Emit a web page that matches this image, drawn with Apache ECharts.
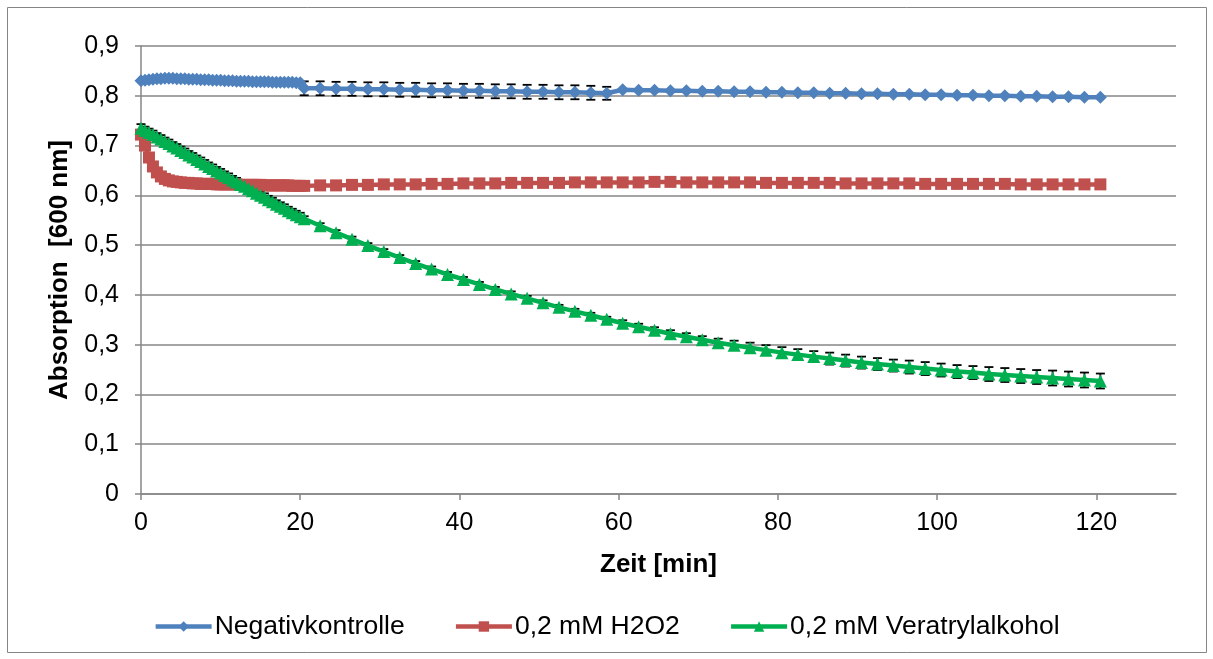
<!DOCTYPE html>
<html>
<head>
<meta charset="utf-8">
<script src="https://cdn.jsdelivr.net/npm/echarts@6/dist/echarts.min.js"></script>
<style>html,body{margin:0;padding:0;background:#fff;}#c{width:1213px;height:659px;}</style>
</head>
<body>
<div id="c"></div>
<script>
// Time points (min)
const zeit = [0,0.5,1,1.5,2,2.5,3,3.5,4,4.5,5,5.5,6,6.5,7,7.5,8,8.5,9,9.5,10,10.5,11,11.5,12,12.5,13,13.5,14,14.5,15,15.5,16,16.5,17,17.5,18,18.5,19,19.5,20,
  20.5,22.5,24.5,26.5,28.5,30.5,32.5,34.5,36.5,38.5,40.5,42.5,44.5,46.5,48.5,50.5,52.5,54.5,56.5,58.5,
  60.5,62.5,64.5,66.5,68.5,70.5,72.5,74.5,76.5,78.5,80.5,82.5,84.5,86.5,88.5,90.5,92.5,94.5,96.5,98.5,
  100.5,102.5,104.5,106.5,108.5,110.5,112.5,114.5,116.5,118.5,120.5];

const seriesNames = ['Negativkontrolle', '0,2 mM H2O2', '0,2 mM Veratrylalkohol'];

const negativ = [0.830,0.831,0.832,0.833,0.834,0.834,0.835,0.835,0.835,0.834,0.834,0.834,0.833,0.833,0.833,0.832,0.832,0.832,0.831,0.831,0.831,0.830,0.830,0.830,0.829,0.829,0.829,0.829,0.828,0.828,0.828,0.828,0.828,0.827,0.827,0.827,0.827,0.827,0.827,0.826,0.826,
  0.815,0.815,0.814,0.814,0.813,0.813,0.812,0.812,0.811,0.811,0.810,0.810,0.809,0.809,0.808,0.808,0.807,0.807,0.806,0.805,
  0.812,0.811,0.811,0.810,0.810,0.809,0.809,0.808,0.808,0.807,0.807,0.806,0.806,0.805,0.805,0.804,0.804,0.803,0.803,0.802,
  0.802,0.801,0.801,0.800,0.800,0.799,0.799,0.798,0.798,0.797,0.797];
const negativErr = [0,0,0,0,0,0,0,0,0,0,0,0,0,0,0,0,0,0,0,0,0,0,0,0,0,0,0,0,0,0,0,0,0,0,0,0,0,0,0,0,0,
  0.014,0.014,0.014,0.014,0.014,0.014,0.014,0.014,0.014,0.014,0.014,0.014,0.014,0.014,0.014,0.014,0.014,0.014,0.014,0.013,
  0,0,0,0,0,0,0,0,0,0,0,0,0,0,0,0,0,0,0,0,
  0,0,0,0,0,0,0,0,0,0,0];

const h2o2 = [0.722,0.700,0.676,0.658,0.646,0.638,0.633,0.630,0.628,0.627,
  0.626,0.625,0.625,0.624,0.624,0.623,0.623,0.623,0.623,0.622,
  0.622,0.622,0.622,0.622,0.622,0.621,0.621,0.621,0.621,0.621,
  0.621,0.620,0.620,0.620,0.620,0.620,0.620,0.620,0.619,0.619,0.619,
  0.619,0.620,0.620,0.621,0.621,0.622,0.622,0.622,0.623,0.623,
  0.624,0.624,0.624,0.625,0.625,0.625,0.625,0.626,0.626,0.626,
  0.626,0.626,0.627,0.627,0.626,0.626,0.626,0.626,0.626,0.625,
  0.625,0.625,0.625,0.625,0.624,0.624,0.624,0.624,0.624,0.623,
  0.623,0.623,0.623,0.623,0.623,0.622,0.622,0.622,0.622,0.622,0.622];

const veratryl = [0.735,0.730,0.726,0.722,0.717,0.713,0.708,0.704,0.699,0.695,
  0.690,0.686,0.681,0.677,0.672,0.668,0.663,0.658,0.654,0.649,
  0.645,0.640,0.636,0.631,0.627,0.622,0.618,0.613,0.609,0.604,
  0.600,0.596,0.591,0.587,0.582,0.578,0.574,0.569,0.565,0.561,0.557,
  0.553,0.539,0.525,0.512,0.499,0.487,0.475,0.463,0.452,0.441,
  0.431,0.421,0.411,0.402,0.393,0.384,0.375,0.367,0.359,0.351,
  0.343,0.336,0.329,0.322,0.316,0.310,0.304,0.299,0.294,0.289,
  0.284,0.280,0.276,0.272,0.268,0.264,0.261,0.258,0.255,0.252,
  0.249,0.246,0.244,0.241,0.239,0.237,0.235,0.233,0.231,0.229,0.227];
const veratrylErr = [0.008,0.008,0.008,0.008,0.008,0.008,0.008,0.008,0.008,0.008,
  0.008,0.008,0.008,0.008,0.008,0.008,0.008,0.008,0.008,0.008,
  0.008,0.008,0.008,0.008,0.008,0.008,0.008,0.008,0.008,0.008,
  0.008,0.008,0.008,0.008,0.008,0.008,0.008,0.008,0.008,0.008,0.008,
  0.005,0.005,0.005,0.005,0.005,0.005,0.005,0.005,0.005,0.005,
  0.005,0.005,0.005,0.005,0.005,0.005,0.005,0.005,0.005,0.005,
  0.006,0.006,0.006,0.007,0.007,0.007,0.008,0.009,0.010,0.010,
  0.011,0.011,0.011,0.012,0.012,0.012,0.012,0.012,0.013,0.013,
  0.013,0.013,0.013,0.014,0.014,0.014,0.014,0.015,0.015,0.015,0.015];

const colors = ['#4F81BD', '#C0504D', '#00B050'];
const FONT = '"Liberation Sans", Arial, sans-serif';

function pairs(ys) { return zeit.map((t, i) => [t, ys[i]]); }
function errData(ys, es) { return zeit.map((t, i) => [t, ys[i], es[i]]); }

function errorSeries(ys, es) {
  return {
    type: 'custom',
    silent: true,
    z: 1,
    data: errData(ys, es),
    encode: { x: 0, y: 1 },
    renderItem: function (params, api) {
      const x = api.value(0), y = api.value(1), e = api.value(2);
      if (!e) return null;
      const top = api.coord([x, y + e]);
      const bot = api.coord([x, y - e]);
      const hw = 4.5;
      const st = { stroke: '#000', lineWidth: 1.8 };
      return {
        type: 'group',
        children: [
          { type: 'line', shape: { x1: top[0], y1: top[1], x2: bot[0], y2: bot[1] }, style: st },
          { type: 'line', shape: { x1: top[0] - hw, y1: top[1], x2: top[0] + hw, y2: top[1] }, style: st },
          { type: 'line', shape: { x1: bot[0] - hw, y1: bot[1], x2: bot[0] + hw, y2: bot[1] }, style: st }
        ]
      };
    }
  };
}

const chart = echarts.init(document.getElementById('c'), null, { renderer: 'canvas' });
chart.setOption({
  animation: false,
  backgroundColor: '#fff',
  color: colors,
  textStyle: { fontFamily: FONT },
  graphic: [{
    type: 'rect', silent: true,
    shape: { x: 7.5, y: 7.5, width: 1199, height: 645 },
    style: { fill: null, stroke: '#868686', lineWidth: 1 }
  }],
  grid: { left: 141, top: 46, width: 1035, height: 448, containLabel: false },
  xAxis: {
    type: 'value', min: 0, max: 130, interval: 20,
    name: 'Zeit [min]', nameLocation: 'middle', nameGap: 58,
    nameTextStyle: { fontFamily: FONT, fontSize: 26, fontWeight: 'bold', color: '#000' },
    axisLine: { show: true, onZero: false, lineStyle: { color: '#868686', width: 1.5 } },
    axisTick: { show: true, length: 6, inside: false, lineStyle: { color: '#868686', width: 1.5 } },
    axisLabel: { fontFamily: FONT, fontSize: 25, color: '#000', margin: 17, showMaxLabel: false },
    splitLine: { show: false }
  },
  yAxis: {
    type: 'value', min: 0, max: 0.9, interval: 0.1,
    name: 'Absorption  [600 nm]', nameLocation: 'middle', nameGap: 68, nameRotate: 90,
    nameTextStyle: { fontFamily: FONT, fontSize: 26, fontWeight: 'bold', color: '#000' },
    axisLine: { show: true, lineStyle: { color: '#868686', width: 1.5 } },
    axisTick: { show: true, length: 6, inside: false, lineStyle: { color: '#868686', width: 1.5 } },
    axisLabel: {
      fontFamily: FONT, fontSize: 25, color: '#000', margin: 22,
      formatter: v => (Math.round(v * 10) / 10).toString().replace('.', ',')
    },
    splitLine: { show: true, lineStyle: { color: '#868686', width: 1.5 } }
  },
  legend: {
    bottom: 14, left: 'center',
    itemWidth: 56, itemHeight: 13, itemGap: 49,
    lineStyle: { width: 4.5 },
    textStyle: { fontFamily: FONT, fontSize: 26.5, color: '#000', padding: [0, 0, 0, -2] },
    data: seriesNames
  },
  series: [
    errorSeries(negativ, negativErr),
    errorSeries(veratryl, veratrylErr),
    {
      name: seriesNames[0], type: 'line', z: 3, data: pairs(negativ),
      symbol: 'diamond', symbolSize: 13, showSymbol: true,
      lineStyle: { width: 4.5, color: colors[0] }, itemStyle: { color: colors[0] }
    },
    {
      name: seriesNames[1], type: 'line', z: 3, data: pairs(h2o2),
      symbol: 'rect', symbolSize: 12, showSymbol: true,
      lineStyle: { width: 4.5, color: colors[1] }, itemStyle: { color: colors[1] }
    },
    {
      name: seriesNames[2], type: 'line', z: 4, data: pairs(veratryl),
      symbol: 'triangle', symbolSize: 13, showSymbol: true,
      lineStyle: { width: 4.5, color: colors[2] }, itemStyle: { color: colors[2] }
    }
  ]
});
</script>
</body>
</html>
